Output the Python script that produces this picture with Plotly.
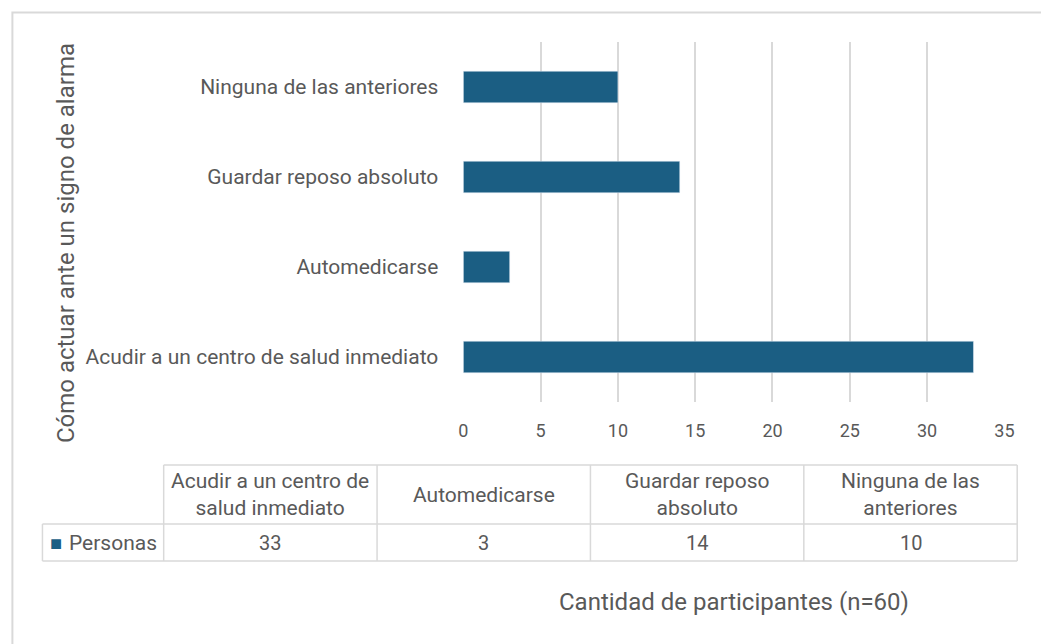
import plotly.graph_objects as go

categories = [
    "Acudir a un centro de salud inmediato",
    "Automedicarse",
    "Guardar reposo absoluto",
    "Ninguna de las anteriores",
]
personas = [33, 3, 14, 10]
table_headers = [
    "Acudir a un centro de<br>salud inmediato",
    "Automedicarse",
    "Guardar reposo<br>absoluto",
    "Ninguna de las<br>anteriores",
]
series_name = "Personas"

W, H = 1041, 644
BAR = "#1B5E83"
TXT = "#595959"
GRID = "#D9D9D9"
FONT = "Roboto, Liberation Sans, sans-serif"


def px_x(v):
    return v / W


def px_y(v):
    return 1 - v / H


fig = go.Figure()

fig.add_trace(
    go.Bar(
        x=personas,
        y=categories,
        orientation="h",
        marker_color=BAR,
        name=series_name,
    )
)

# data table under the chart (Excel style)
tab_left, first_col, tab_right = 38, 161, 1027
head_top, row_top, row_bottom = 465, 524, 561
col_w = (tab_right - first_col) / len(categories)
col_edges = [first_col + i * col_w for i in range(len(categories) + 1)]


def hline(x0, x1, y):
    return dict(type="line", xref="paper", yref="paper",
                x0=px_x(x0), x1=px_x(x1), y0=px_y(y), y1=px_y(y),
                line=dict(color=GRID, width=1.5))


def vline(x, y0, y1):
    return dict(type="line", xref="paper", yref="paper",
                x0=px_x(x), x1=px_x(x), y0=px_y(y0), y1=px_y(y1),
                line=dict(color=GRID, width=1.5))


shapes = [
    # outer chart border
    dict(type="rect", xref="paper", yref="paper",
         x0=px_x(7.5), x1=1.05, y0=-0.05, y1=px_y(12.5),
         line=dict(color=GRID, width=2)),
    hline(first_col, tab_right, head_top),
    hline(tab_left, tab_right, row_top),
    hline(tab_left, tab_right, row_bottom),
    vline(tab_left, row_top, row_bottom),
]
shapes += [vline(xe, head_top, row_bottom) for xe in col_edges]

mid_head = (head_top + row_top) / 2
mid_row = (row_top + row_bottom) / 2

annotations = [
    dict(text="Cómo actuar ante un signo de alarma",
         xref="paper", yref="paper", x=px_x(62), y=px_y(243),
         xanchor="center", yanchor="middle",
         textangle=-90, showarrow=False,
         font=dict(family=FONT, size=24, color=TXT)),
    dict(text="Cantidad de participantes (n=60)",
         xref="paper", yref="paper", x=px_x(740), y=px_y(602),
         xanchor="center", yanchor="middle", showarrow=False,
         font=dict(family=FONT, size=24, color=TXT)),
    dict(text="■", xref="paper", yref="paper",
         x=px_x(52), y=px_y(mid_row), xanchor="center", yanchor="middle",
         showarrow=False, font=dict(family=FONT, size=20, color=BAR)),
    dict(text=series_name, xref="paper", yref="paper",
         x=px_x(63), y=px_y(mid_row), xanchor="left", yanchor="middle",
         showarrow=False, font=dict(family=FONT, size=21, color=TXT)),
]
for i, (head, val) in enumerate(zip(table_headers, personas)):
    cx = px_x((col_edges[i] + col_edges[i + 1]) / 2)
    annotations.append(dict(text=head, xref="paper", yref="paper",
                            x=cx, y=px_y(mid_head), xanchor="center",
                            yanchor="middle", align="center", showarrow=False,
                            font=dict(family=FONT, size=21, color=TXT)))
    annotations.append(dict(text=str(val), xref="paper", yref="paper",
                            x=cx, y=px_y(mid_row), xanchor="center",
                            yanchor="middle", showarrow=False,
                            font=dict(family=FONT, size=20, color=TXT)))

fig.update_layout(
    width=W,
    height=H,
    margin=dict(l=0, r=0, t=0, b=0),
    paper_bgcolor="white",
    plot_bgcolor="white",
    showlegend=False,
    bargap=0.65,
    xaxis=dict(
        domain=[px_x(465), px_x(1014)],
        range=[0, 35],
        dtick=5,
        showgrid=True,
        gridcolor=GRID,
        gridwidth=1.5,
        zeroline=False,
        showline=False,
        ticks="",
        ticklabelstandoff=16,
        tickfont=dict(family=FONT, size=18, color=TXT),
    ),
    yaxis=dict(
        domain=[px_y(402), px_y(42)],
        showgrid=False,
        zeroline=False,
        showline=False,
        ticks="",
        ticklabelstandoff=24,
        tickfont=dict(family=FONT, size=21, color=TXT),
    ),
    shapes=shapes,
    annotations=annotations,
)

fig.write_html(
    "out.html",
    config={"displayModeBar": False},
    post_script="document.body.style.margin='0';document.body.style.overflow='hidden';",
)
